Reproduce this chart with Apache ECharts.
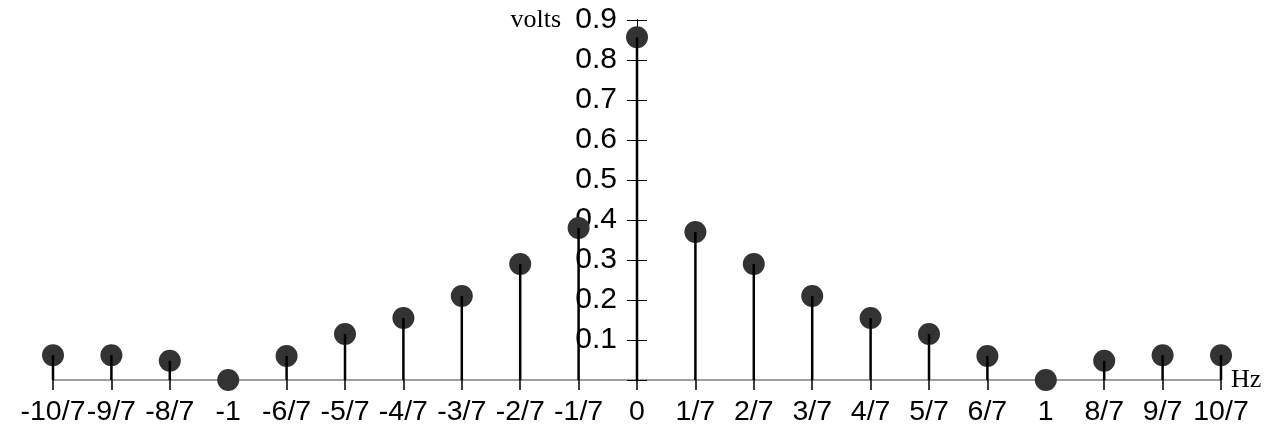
<!DOCTYPE html>
<html>
<head>
<meta charset="utf-8">
<script src="https://cdn.jsdelivr.net/npm/echarts@6/dist/echarts.min.js"></script>
<style>
html,body{margin:0;padding:0;background:#fff;}
#chart{width:1279px;height:443px;}
</style>
</head>
<body>
<div id="chart"></div>
<script>
// frequency positions in units of 1/7 Hz
const numerators = [-10,-9,-8,-7,-6,-5,-4,-3,-2,-1,0,1,2,3,4,5,6,7,8,9,10];
const tickLabels = ['-10/7','-9/7','-8/7','-1','-6/7','-5/7','-4/7','-3/7','-2/7','-1/7','0','1/7','2/7','3/7','4/7','5/7','6/7','1','8/7','9/7','10/7'];
const volts = [0.062,0.062,0.048,0,0.06,0.115,0.155,0.21,0.29,0.38,0.857,0.37,0.29,0.21,0.155,0.115,0.06,0,0.048,0.062,0.062];
const yTicks = [0.1,0.2,0.3,0.4,0.5,0.6,0.7,0.8,0.9];

const pts = numerators.map((n,i)=>[n, volts[i]]);
const chart = echarts.init(document.getElementById('chart'));
const GL = 53, GR = 58, W = 1279;
// y axis sits at x = 0 of the value x-axis
const yOffset = -((W - GL - GR) * (0 - numerators[0]) / (numerators[numerators.length-1] - numerators[0]));
const numFont = {fontFamily:'Liberation Sans, Arial, sans-serif', fontSize:30, color:'#000'};
const serif = {fontFamily:'Liberation Serif, Times New Roman, serif', fontSize:26, color:'#000'};
chart.setOption({
  animation:false,
  backgroundColor:'#fff',
  grid:{left:GL,right:GR,top:20,bottom:63, outerBoundsMode:'none', containLabel:false},
  xAxis:{
    type:'value', min:-10, max:10, interval:1,
    name:'Hz', nameLocation:'end', nameGap:10,
    nameTextStyle:Object.assign({}, serif, {verticalAlign:'middle', padding:[8,0,0,0]}),
    axisLine:{onZero:false, lineStyle:{color:'#808080', width:1.5}},
    axisTick:{show:true, length:10, lineStyle:{color:'#000', width:1.5}},
    axisLabel:Object.assign({}, numFont, {fontSize:28.5, margin:18, showMinLabel:true, showMaxLabel:true, hideOverlap:false,
      formatter:v=>tickLabels[numerators.indexOf(v)] ?? ''}),
    splitLine:{show:false}
  },
  yAxis:[{
    type:'value', min:0, max:0.9, interval:0.1, position:'left', offset:yOffset,
    name:'volts', nameLocation:'end', nameGap:0,
    nameTextStyle:Object.assign({}, serif, {align:'right', verticalAlign:'middle', padding:[0,76,0,0]}),
    axisLine:{onZero:false, lineStyle:{color:'#000', width:1}},
    axisTick:{show:true, length:10, lineStyle:{color:'#000', width:1}},
    axisLabel:Object.assign({}, numFont, {margin:20, formatter:v=> yTicks.some(t=>Math.abs(t-v)<1e-9) ? (Math.round(v*10)/10).toFixed(1) : ''}),
    splitLine:{show:false}
  },{
    type:'value', min:0, max:0.9, interval:0.1, position:'left', offset:yOffset,
    axisLine:{onZero:false, lineStyle:{color:'#000', width:1}},
    axisTick:{show:true, inside:true, length:10, lineStyle:{color:'#000', width:1}},
    axisLabel:{show:false},
    splitLine:{show:false}
  }],
  series:[{
    type:'scatter', data:pts, symbol:'circle', symbolSize:22,
    itemStyle:{color:'#333', opacity:1}, z:2
  },{
    type:'bar', data:pts, barWidth:2.5,
    itemStyle:{color:'#000'}, z:3
  }]
});
</script>
</body>
</html>
